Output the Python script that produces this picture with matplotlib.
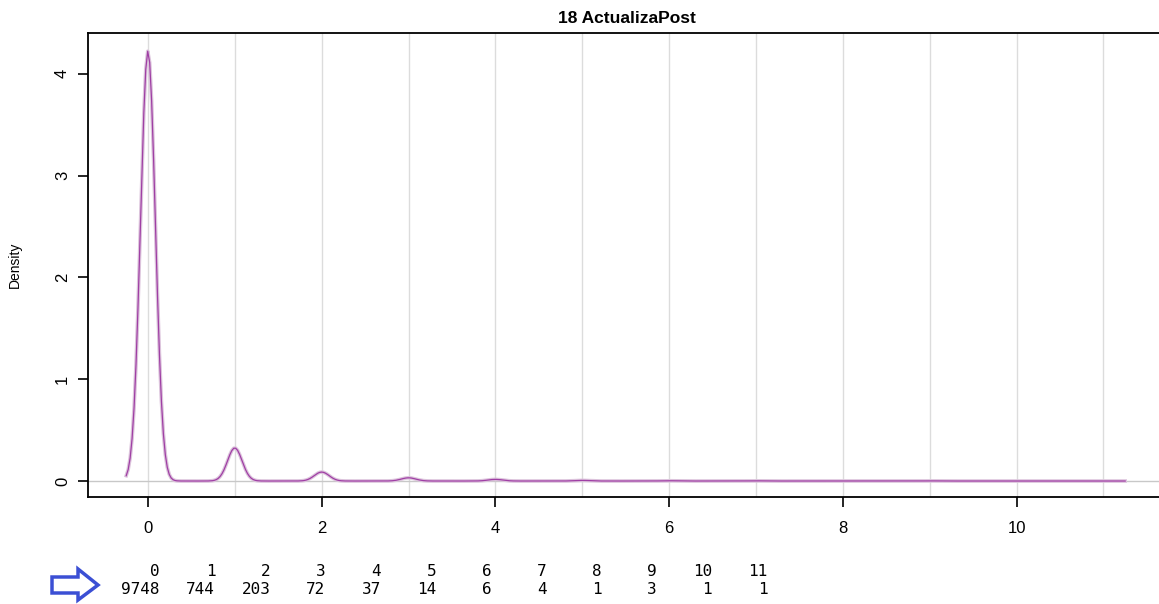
import matplotlib

matplotlib.use("Agg")
import matplotlib.pyplot as plt
import numpy as np
from matplotlib.patches import Polygon

plt.rcParams["font.family"] = ["Liberation Sans", "DejaVu Sans"]

# observed values of ActualizaPost and how often each one occurs
values = [0, 1, 2, 3, 4, 5, 6, 7, 8, 9, 10, 11]
counts = [9748, 744, 203, 72, 37, 14, 6, 4, 1, 3, 1, 1]
title = "18 ActualizaPost"
x_ticks = [0, 2, 4, 6, 8, 10]
y_ticks = [0, 1, 2, 3, 4]

W, H = 1159, 604


def r_density(vals, wts, n=512, cut=3):
    """Gaussian KDE the way R's density() does it (nrd0 bandwidth, binned FFT)."""
    x = np.repeat(np.asarray(vals, float), wts)
    sd = x.std(ddof=1)
    q75, q25 = np.percentile(x, [75, 25])
    lo_s = min(sd, (q75 - q25) / 1.34) or sd
    bw = 0.9 * lo_s * len(x) ** -0.2
    frm, to = x.min() - cut * bw, x.max() + cut * bw
    lo, up = frm - 4 * bw, to + 4 * bw
    # linear binning onto n points, padded to 2n
    y = np.zeros(2 * n)
    delta = (up - lo) / (n - 1)
    w = np.asarray(wts, float) / np.sum(wts)
    for v, m in zip(vals, w):
        pos = (v - lo) / delta
        i = int(np.floor(pos))
        f = pos - i
        y[i] += m * (1 - f)
        y[i + 1] += m * f
    kords = np.linspace(0, 2 * (up - lo), 2 * n)
    kords[n + 1:] = -kords[n - 1:0:-1]
    kords = np.exp(-0.5 * (kords / bw) ** 2) / (bw * np.sqrt(2 * np.pi))
    dens = np.fft.ifft(np.fft.fft(y) * np.conj(np.fft.fft(kords))).real[:n]
    dens = np.maximum(dens, 0)
    xords = np.linspace(lo, up, n)
    xs = np.linspace(frm, to, n)
    return xs, np.interp(xs, xords, dens)


xs, ys = r_density(values, counts)

fig = plt.figure(figsize=(W / 100, H / 100), dpi=100)
left, right, top, bottom = 88, 1166, 33, 497
ax = fig.add_axes([left / W, 1 - bottom / H, (right - left) / W, (bottom - top) / H])
ax.set_xlim(-0.69, 11.72)
ax.set_ylim(-0.157, 4.40)

for v in values:
    ax.axvline(v, color="#dcdcdc", lw=1, zorder=1)
ax.axhline(0, color="#c8c8c8", lw=1, zorder=1)

ax.plot(xs, ys, color="#dcc3dc", lw=2.6, zorder=2)
ax.plot(xs, ys, color="#95289b", lw=0.9, alpha=0.85, zorder=3)

ax.set_xticks(x_ticks)
ax.set_yticks(y_ticks)
ax.tick_params(axis="both", direction="out", length=7, width=1.2, labelsize=12)
ax.tick_params(axis="x", pad=10)
ax.tick_params(axis="y", pad=6)
for lab in ax.get_yticklabels():
    lab.set_rotation(90)
    lab.set_va("center")
ax.set_ylabel("Density", fontsize=10, labelpad=24)
ax.set_title(title, fontsize=12.5, fontweight="bold", pad=7)
ax.spines["right"].set_visible(False)
for s in ax.spines.values():
    s.set_linewidth(1.3)

# the printed frequency table under the plot
col_right0, col_step = 160, 55.2
for i, (v, c) in enumerate(zip(values, counts)):
    xr = (col_right0 + i * col_step) / W
    fig.text(xr, 1 - 571 / H, str(v), ha="right", va="center",
             family="DejaVu Sans Mono", fontsize=11.5)
    fig.text(xr, 1 - 590 / H, str(c), ha="right", va="center",
             family="DejaVu Sans Mono", fontsize=11.5)

# blue outline arrow pointing at the table
arrow_px = [(52, 577), (78, 577), (78, 569), (98, 585), (78, 600), (78, 593), (52, 593)]
arrow = Polygon([(px / W, 1 - py / H) for px, py in arrow_px], closed=True,
                transform=fig.transFigure, facecolor="white", edgecolor="#3b4fd4", lw=2.5)
fig.patches.append(arrow)

fig.savefig("out.png", dpi=100)
